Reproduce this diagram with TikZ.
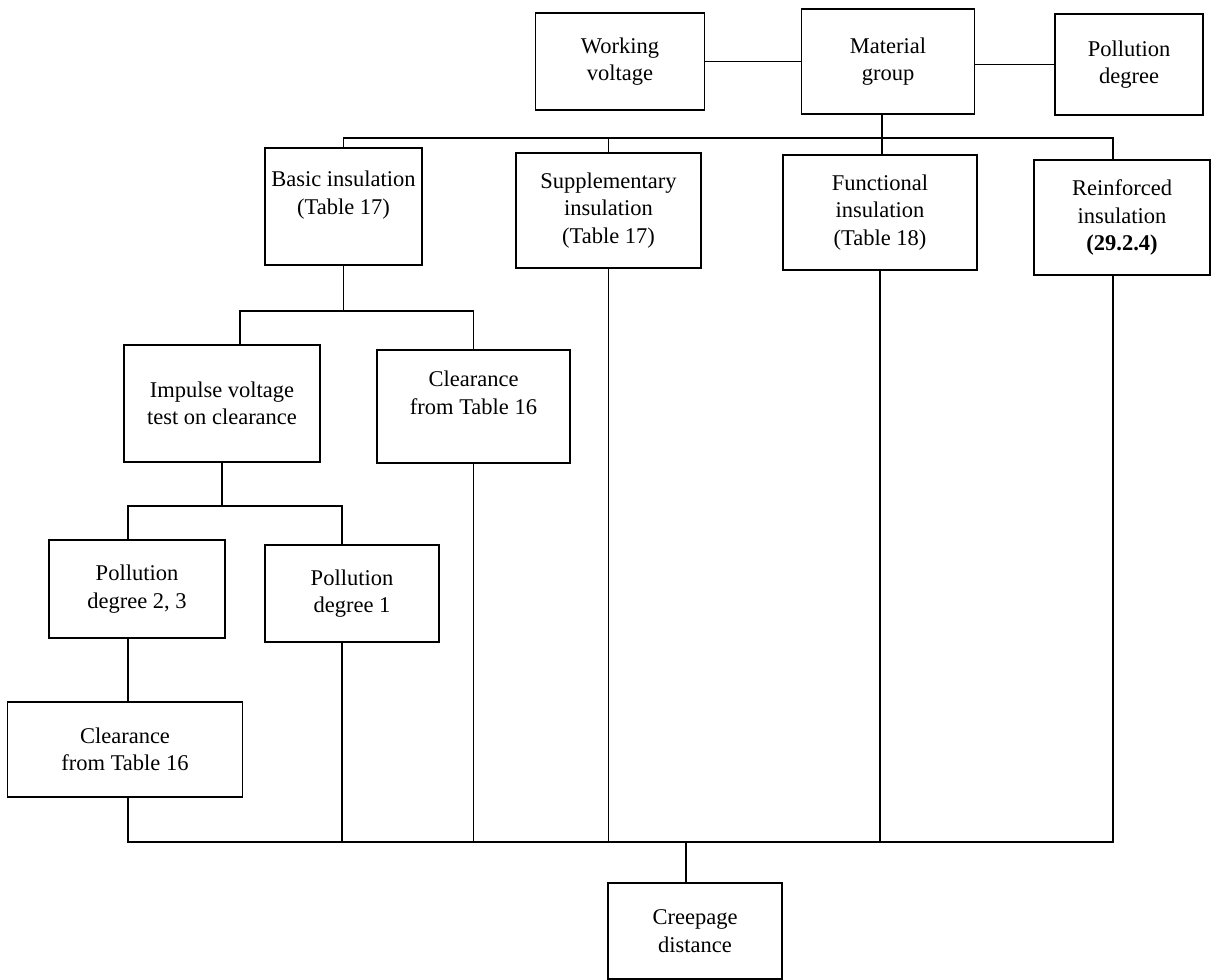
\documentclass[tikz,border=0pt]{standalone}
\usepackage{fontspec}
\setmainfont{Liberation Serif}

\begin{document}
\begin{tikzpicture}[x=0.025cm, y=-0.025cm, line width=1.1pt,
  block/.style={draw, line width=1.3pt, align=center, inner sep=2pt,
    font=\fontsize{16}{19.5}\selectfont}]
\useasboundingbox (0,0) rectangle (1217,980);

% top row
\node[block, minimum width=4.225cm, minimum height=2.425cm] (working) at (620,61.5) {Working\\voltage};
\node[block, minimum width=4.325cm, minimum height=2.625cm] (material) at (888,61.5) {Material\\group};
\node[block, minimum width=3.7cm, minimum height=2.525cm] (pollution) at (1129,64.5) {Pollution\\degree};

\draw (working.east) -- (working.east -| material.west);
\draw (pollution.west -| material.east) -- (pollution.west);

% insulation types
\node[block, minimum width=3.925cm, minimum height=2.925cm] (basic) at (343.5,206.5) {Basic insulation\\(Table 17)\\~};
\node[block, minimum width=4.625cm, minimum height=2.875cm] (supplementary) at (608.5,210.5) {Supplementary\\insulation\\(Table 17)};
\node[block, minimum width=4.85cm, minimum height=2.875cm] (functional) at (880,212.5) {Functional\\insulation\\(Table 18)};
\node[block, minimum width=4.4cm, minimum height=2.875cm] (reinforced) at (1122,217.5) {Reinforced\\insulation\\\textbf{(29.2.4)}};

\draw ([xshift=-0.15cm]material.south) -- ++(0,23) -| (basic.north);
\draw ([xshift=-0.15cm]material.south) -- ++(0,23) -| (supplementary.north);
\draw ([xshift=-0.15cm]material.south) -- ++(0,23) -| ([xshift=-0.225cm]reinforced.north);
\draw ([xshift=-0.15cm]material.south) -- ([xshift=-0.15cm]material.south |- functional.north);

% basic insulation branch
\node[block, minimum width=4.9cm, minimum height=2.925cm] (impulse) at (222,403.5) {Impulse voltage\\test on clearance};
\node[block, minimum width=4.825cm, minimum height=2.825cm] (clearanceA) at (473.5,406.5) {Clearance\\from Table 16\\~};

\draw (basic.south) -- ++(0,45) -| ([xshift=0.45cm]impulse.north);
\draw (basic.south) -- ++(0,45) -| (clearanceA.north);

\node[block, minimum width=4.4cm, minimum height=2.45cm] (degreeB) at (137,589) {Pollution\\degree 2, 3};
\node[block, minimum width=4.35cm, minimum height=2.425cm] (degreeA) at (352,593.5) {Pollution\\degree 1};

\draw (impulse.south) -- ++(0,43) -| ([xshift=-0.225cm]degreeB.north);
\draw (impulse.south) -- ++(0,43) -| ([xshift=-0.25cm]degreeA.north);

\node[block, minimum width=5.875cm, minimum height=2.375cm] (clearanceB) at (125,749.5) {Clearance\\from Table 16};

\draw ([xshift=-0.225cm]degreeB.south) -- ([xshift=-0.225cm]degreeB.south |- clearanceB.north);

% creepage distance
\node[block, minimum width=4.35cm, minimum height=2.4cm] (creepage) at (695,931) {Creepage\\distance};

\draw ([xshift=-0.225cm]creepage.north) -- ++(0,-40) coordinate (join);
\draw ([xshift=-0.225cm]degreeB.south |- clearanceB.south) |- (join);
\draw ([xshift=-0.225cm]reinforced.south) |- (join);
\draw ([xshift=-0.25cm]degreeA.south) -- ([xshift=-0.25cm]degreeA.south |- join);
\draw (clearanceA.south) -- (clearanceA.south |- join);
\draw (supplementary.south) -- (supplementary.south |- join);
\draw (functional.south) -- (functional.south |- join);
\end{tikzpicture}
\end{document}
